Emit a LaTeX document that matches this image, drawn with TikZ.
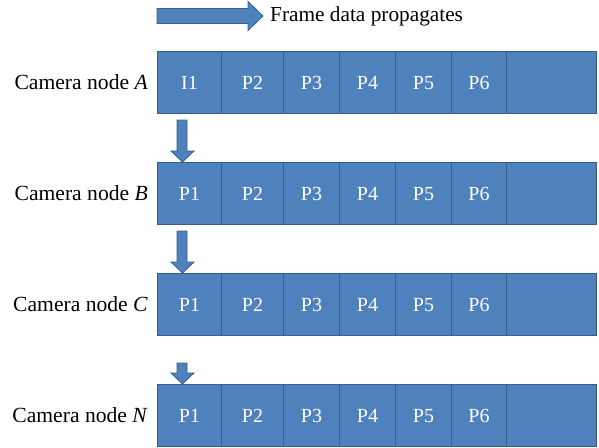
\documentclass[tikz,border=0pt]{standalone}
\usepackage{fontspec}
\setmainfont{Liberation Serif}
\begin{document}
\begin{tikzpicture}[x=1pt,y=-1pt,
  cellbox/.style={draw=cellborder,fill=cellfill,line width=1.1pt,inner sep=0pt,anchor=north west,
     text=white,font=\fontsize{20}{22}\selectfont},
  rowlabel/.style={anchor=east,inner sep=0pt,font=\fontsize{21.6}{24}\selectfont},
  blockarrow/.style={draw=cellborder,fill=cellfill,line width=0.8pt,line join=miter}]
\definecolor{cellfill}{HTML}{4F81BD}
\definecolor{cellborder}{HTML}{385D8A}
\useasboundingbox (0,0) rectangle (599,447);
% top arrow
\draw[blockarrow] (157,8.5) -- (248,8.5) -- (248,1.5) -- (263,16) -- (248,30.5) -- (248,23.5) -- (157,23.5) -- cycle;
\node[anchor=west,inner sep=0pt,font=\fontsize{21.3}{24}\selectfont] (title) at (270,16) {Frame data propagates};
% rows
\foreach \r/\y/\first/\lab in {A/51/I1/A, B/162/P1/B, C/273/P1/C, N/384/P1/N}{
  \node[cellbox,minimum width=64pt,minimum height=62pt] (\r1) at (157,\y) {\first};
  \node[cellbox,minimum width=62pt,minimum height=62pt] (\r2) at (221,\y) {P2};
  \node[cellbox,minimum width=56pt,minimum height=62pt] (\r3) at (283,\y) {P3};
  \node[cellbox,minimum width=56pt,minimum height=62pt] (\r4) at (339,\y) {P4};
  \node[cellbox,minimum width=56pt,minimum height=62pt] (\r5) at (395,\y) {P5};
  \node[cellbox,minimum width=55pt,minimum height=62pt] (\r6) at (451,\y) {P6};
  \node[cellbox,minimum width=90pt,minimum height=62pt] (\r7) at (506,\y) {};
  \node[rowlabel] (lab\r) at (148,\y+31) {Camera node \textit{\lab}};
}
% down arrows
\foreach \from/\to/\top/\hs in {A/B/120/151, B/C/231/262, C/N/363/373}{
  \path (\to1.north west) ++(25.5,0) coordinate (tip\to);
  \draw[blockarrow] (177,\top) -- (187,\top) -- (187,\hs) -- (194,\hs) -- (tip\to) -- (171,\hs) -- (177,\hs) -- cycle;
}
\end{tikzpicture}
\end{document}
